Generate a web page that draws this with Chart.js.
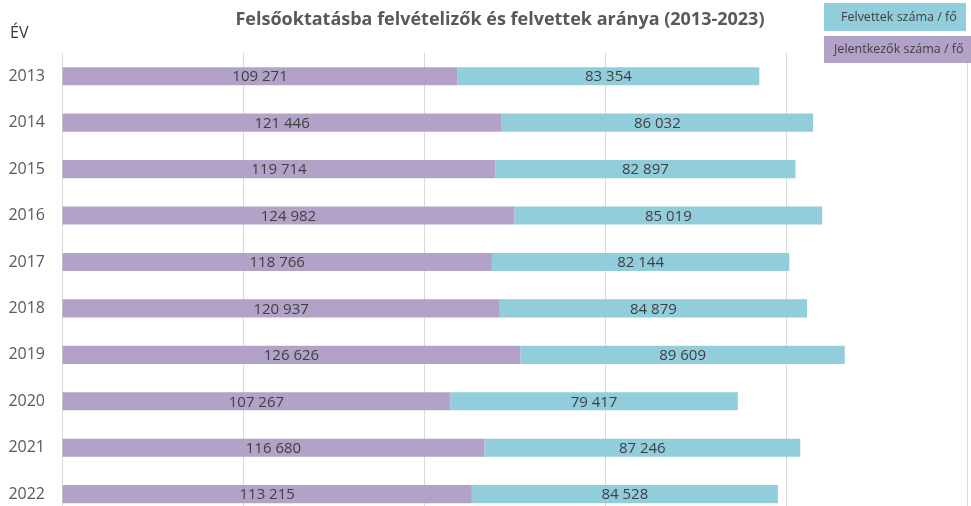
<!DOCTYPE html>
<html>
<head>
<meta charset="utf-8">
<script src="https://cdn.jsdelivr.net/npm/chart.js@4/dist/chart.umd.min.js"></script>
<style>
    html, body { margin: 0; padding: 0; background: #fff; overflow: hidden; }
</style>
</head>
<body>
<canvas id="myChart" width="971" height="544"></canvas>
<script>
var years = ["2013", "2014", "2015", "2016", "2017", "2018", "2019", "2020", "2021", "2022"];
var jelentkezok = [109271, 121446, 119714, 124982, 118766, 120937, 126626, 107267, 116680, 113215];
var felvettek = [83354, 86032, 82897, 85019, 82144, 84879, 89609, 79417, 87246, 84528];
var xTicks = [0, 50000, 100000, 150000, 200000, 250000];

var titleText = "Felsőoktatásba felvételizők és felvettek aránya (2013-2023)";
var axisTitle = "ÉV";

var purple = "#b3a2c7";
var blue = "#92cddc";

var fmt = function (n) {
    return n.toString().replace(/\B(?=(\d{3})+(?!\d))/g, " ");
};

// labels inside bars, title, "ÉV" and the boxed legend
var extras = {
    id: "extras",
    afterDatasetsDraw: function (chart) {
        var ctx = chart.ctx;
        ctx.save();
        ctx.font = "15px 'Open Sans'";
        ctx.fillStyle = "#404040";
        ctx.textAlign = "center";
        ctx.textBaseline = "middle";
        chart.data.datasets.forEach(function (ds, i) {
            var meta = chart.getDatasetMeta(i);
            meta.data.forEach(function (bar, j) {
                ctx.fillText(fmt(ds.data[j]), (bar.x + bar.base) / 2, bar.y + 1);
            });
        });
        ctx.restore();
    },
    afterDraw: function (chart) {
        var ctx = chart.ctx;
        ctx.save();
        ctx.textBaseline = "middle";

        ctx.font = "bold 18px 'Open Sans'";
        ctx.fillStyle = "#595959";
        ctx.textAlign = "center";
        ctx.fillText(titleText, 500, 20);

        ctx.font = "16px 'Open Sans'";
        ctx.fillStyle = "#333333";
        ctx.textAlign = "left";
        ctx.fillText(axisTitle, 10, 33);

        // legend: reversed order, label drawn on its colour box
        var ds = chart.data.datasets;
        var items = [ds[1], ds[0]];
        var boxes = [[824, 3, 142, 28, 841], [824, 36, 150, 27, 834]];
        ctx.font = "12.5px 'Open Sans'";
        items.forEach(function (d, k) {
            var b = boxes[k];
            ctx.fillStyle = d.backgroundColor;
            ctx.fillRect(b[0], b[1], b[2], b[3]);
            ctx.fillStyle = "#404040";
            ctx.textAlign = "left";
            ctx.fillText(d.label, b[4], b[1] + b[3] / 2);
        });
        ctx.restore();
    },
};

var myChart = document.getElementById("myChart").getContext("2d");
var chart = new Chart(myChart, {
    type: "bar",
    data: {
        labels: years,
        datasets: [
            {
                label: "Jelentkezők száma / fő",
                backgroundColor: purple,
                data: jelentkezok,
                barPercentage: 0.39,
                categoryPercentage: 1,
            },
            {
                label: "Felvettek száma / fő",
                backgroundColor: blue,
                data: felvettek,
                barPercentage: 0.39,
                categoryPercentage: 1,
            },
        ],
    },
    options: {
        indexAxis: "y",
        responsive: false,
        animation: false,
        layout: { padding: { top: 53, right: 4, left: 0, bottom: 0 } },
        plugins: {
            legend: { display: false },
            title: { display: false },
            tooltip: { enabled: false },
        },
        scales: {
            x: {
                stacked: true,
                min: 0,
                max: 250000,
                afterBuildTicks: function (axis) {
                    axis.ticks = xTicks.map(function (v) { return { value: v }; });
                },
                afterFit: function (axis) { axis.height = 0; },
                ticks: { display: false },
                grid: { color: "#d9d9d9", lineWidth: 1, drawTicks: false },
                border: { display: false },
            },
            y: {
                stacked: true,
                afterFit: function (axis) { axis.width = 62; },
                ticks: {
                    padding: 17,
                    color: "#595959",
                    font: { family: "'Open Sans'", size: 16 },
                },
                grid: { display: false, drawTicks: false },
                border: { display: false },
            },
        },
    },
    plugins: [extras],
});
</script>
</body>
</html>
